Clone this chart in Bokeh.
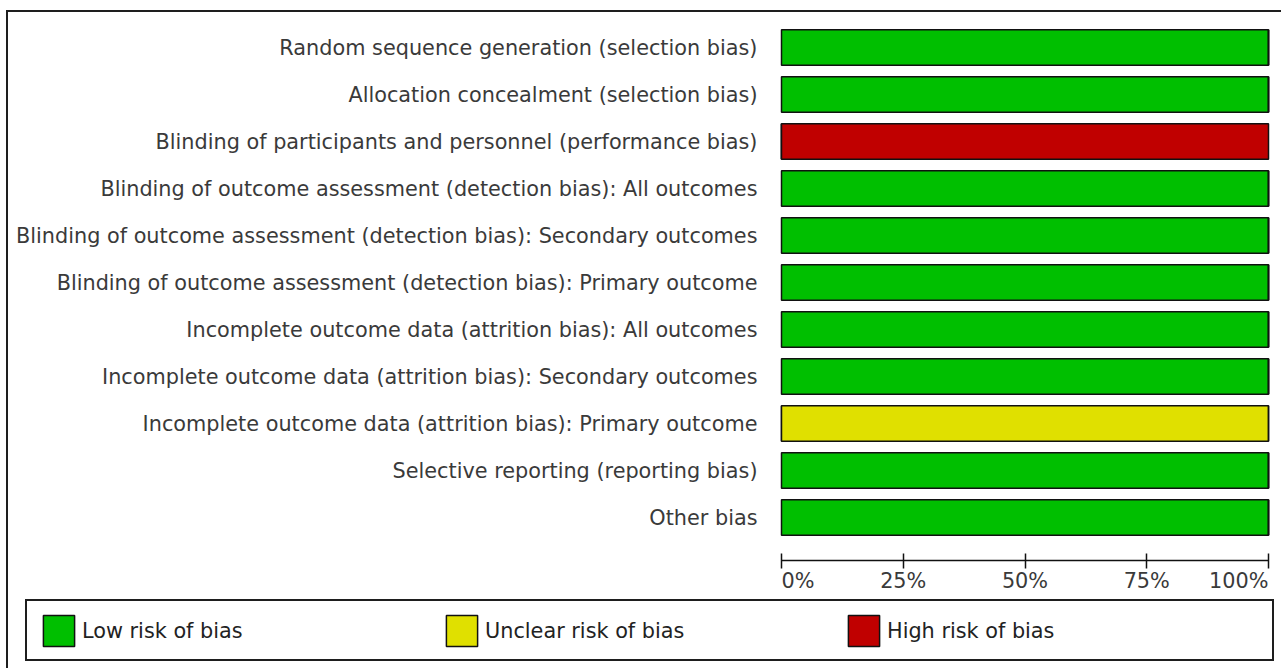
from bokeh.plotting import figure
from bokeh.models import ColumnDataSource, Range1d, FixedTicker, Legend, LegendItem
from bokeh.core.properties import value, field
from bokeh.embed import file_html
from bokeh.resources import INLINE

# ---------------- data ----------------
domains = [
    "Random sequence generation (selection bias)",
    "Allocation concealment (selection bias)",
    "Blinding of participants and personnel (performance bias)",
    "Blinding of outcome assessment (detection bias): All outcomes",
    "Blinding of outcome assessment (detection bias): Secondary outcomes",
    "Blinding of outcome assessment (detection bias): Primary outcome",
    "Incomplete outcome data (attrition bias): All outcomes",
    "Incomplete outcome data (attrition bias): Secondary outcomes",
    "Incomplete outcome data (attrition bias): Primary outcome",
    "Selective reporting (reporting bias)",
    "Other bias",
]
low     = [100, 100,   0, 100, 100, 100, 100, 100,   0, 100, 100]
unclear = [  0,   0,   0,   0,   0,   0,   0,   0, 100,   0,   0]
high    = [  0,   0, 100,   0,   0,   0,   0,   0,   0,   0,   0]

risk_labels = ["Low risk of bias", "Unclear risk of bias", "High risk of bias"]
risk_colors = ["#00bf00", "#e0e000", "#c00000"]

tick_values = [0, 25, 50, 75, 100]
tick_labels = ["0%", "25%", "50%", "75%", "100%"]

# ---------------- layout (canvas pixels) ----------------
FONT = "DejaVu Sans"
FS = "20.8px"
TXT = "#3a3a3a"
W, H = 1275, 658
X0, X100 = 773.0, 1260.0          # canvas x of 0% and 100%
PXP = (X100 - X0) / 100.0
ROW0, ROW = 35.0, 47.0            # canvas y of first row centre, row pitch
AXIS_Y = 548.0                    # canvas y of the x axis line

x_start = -X0 / PXP
x_end = 100 + (W - X100) / PXP
y_top = -ROW0 / ROW
y_bot = (H - ROW0) / ROW
axis_val = (AXIS_Y - ROW0) / ROW

p = figure(width=W, height=H, output_backend="svg", toolbar_location=None,
           x_range=Range1d(x_start, x_end), y_range=Range1d(y_bot, y_top),
           min_border=0, min_border_left=0, min_border_right=0,
           min_border_top=0, min_border_bottom=0)
p.outline_line_color = None
p.grid.visible = False
p.background_fill_color = "white"
p.border_fill_color = "white"
p.styles = {"position": "relative", "left": "8px", "top": "12px",
            "box-shadow": "-2px -2px 0 0 #1e1e1e"}

src = ColumnDataSource(dict(y=list(range(len(domains))), low=low, unclear=unclear, high=high))
bars = p.hbar_stack(["low", "unclear", "high"], y="y", height=0.76, color=risk_colors,
                    line_color="#111111", line_width=1.5, source=src)

# y axis: category labels, pinned at 0%
ya = p.yaxis[0]
ya.fixed_location = 0
ya.ticker = FixedTicker(ticks=list(range(len(domains))))
ya.major_label_overrides = {i: d for i, d in enumerate(domains)}
ya.axis_line_color = None
ya.major_tick_line_color = None
ya.minor_tick_line_color = None
ya.major_tick_out = 0
ya.major_tick_in = 0
ya.major_label_standoff = 24
ya.major_label_text_font = FONT
ya.major_label_text_font_size = FS
ya.major_label_text_color = TXT

# x axis pinned under the bars
xa = p.xaxis[0]
xa.fixed_location = axis_val
xa.bounds = (0, 100)
xa.ticker = FixedTicker(ticks=tick_values)
xa.minor_tick_line_color = None
xa.axis_line_color = "#111111"
xa.axis_line_width = 1.5
xa.major_tick_line_color = "#111111"
xa.major_tick_line_width = 1.5
xa.major_tick_in = 7
xa.major_tick_out = 8
xa.major_label_text_color = None
xa.major_label_text_font_size = "1px"

tsrc = ColumnDataSource(dict(x=tick_values, y=[axis_val] * len(tick_values), text=tick_labels,
                             align=["left", "center", "center", "center", "right"]))
p.text(x="x", y="y", text="text", source=tsrc, text_align=field("align"),
       text_baseline="middle", y_offset=20,
       text_font=value(FONT), text_font_size=value(FS), text_color=TXT)

# legend box
blank = p.scatter(x=[], y=[], size=1, fill_alpha=0, line_alpha=0)
box = Legend(items=[LegendItem(label=" ", renderers=[blank])], location=(17, H - 649),
             padding=0, margin=0, spacing=0, glyph_width=1, glyph_height=58,
             label_standoff=0, label_width=1244, label_height=58,
             border_line_color="#1e1e1e", border_line_width=2, border_line_alpha=1,
             background_fill_color="white", background_fill_alpha=1)
p.add_layout(box, "center")

item_x = [31, 434, 836]
for r, lab, gx in zip(bars, risk_labels, item_x):
    lg = Legend(items=[LegendItem(label=lab, renderers=[r])], location=(gx, H - 638),
                padding=0, margin=0, spacing=0, glyph_width=39, glyph_height=39,
                label_standoff=4, border_line_color=None, background_fill_alpha=0,
                label_text_font=FONT, label_text_font_size=FS, label_text_color="#222222")
    p.add_layout(lg, "center")

open("out.html", "w").write(file_html(p, INLINE))
